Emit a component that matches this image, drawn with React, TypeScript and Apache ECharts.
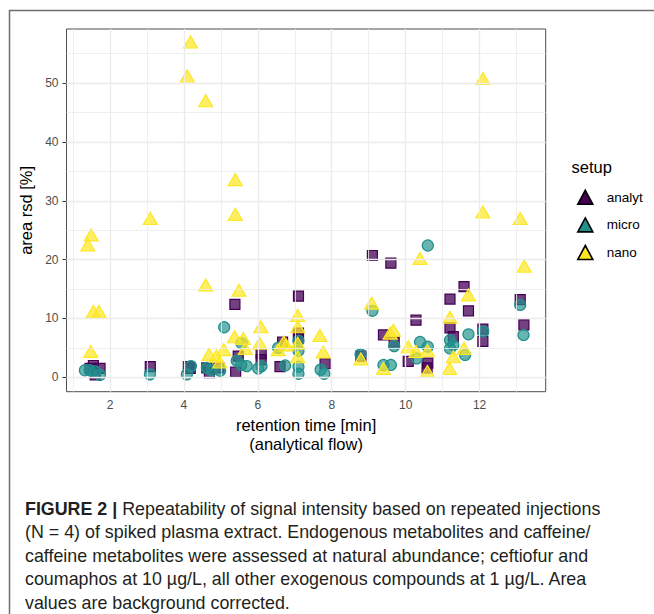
import React, { useEffect, useRef } from "react";
import * as echarts from "echarts";

// ---- data (retention time [min], area rsd [%]) ----
const analytRt = [1.46, 1.55, 1.6, 1.73, 3.09, 4.12, 4.17, 4.62, 4.69, 4.95, 5.38, 5.4, 5.47, 6.09, 6.09, 6.6, 6.67, 7.1, 7.1, 7.1, 7.82, 8.79, 9.1, 9.6, 9.4, 9.69, 10.07, 10.28, 10.6, 10.58, 11.2, 11.2, 11.29, 11.58, 11.7, 12.09, 12.09, 13.1, 13.2];
const analytRsd = [1.5, 2.0, 0.4, 1.5, 1.8, 1.8, 1.5, 1.6, 0.8, 1.6, 12.4, 0.9, 3.6, 4.0, 3.0, 1.8, 6.0, 13.8, 7.5, 6.6, 2.3, 3.6, 20.7, 19.4, 7.2, 6.0, 2.7, 9.7, 2.4, 1.6, 13.3, 8.4, 6.9, 15.4, 11.3, 8.2, 6.1, 13.2, 8.9];

const microRt = [1.32, 1.45, 1.6, 1.73, 3.08, 4.08, 4.19, 4.62, 4.75, 4.98, 5.09, 5.43, 5.55, 5.7, 5.56, 6.01, 6.1, 6.55, 6.74, 7.1, 7.1, 7.1, 7.1, 7.7, 7.8, 8.78, 9.1, 9.4, 9.6, 9.69, 10.3, 10.39, 10.6, 10.6, 11.2, 11.29, 11.2, 11.61, 11.7, 12.1, 13.1, 13.19];
const microRsd = [1.2, 1.2, 1.0, 0.4, 0.5, 0.5, 1.9, 1.6, 1.2, 1.1, 8.5, 2.8, 2.1, 1.9, 5.8, 1.5, 1.9, 5.0, 2.0, 6.2, 4.5, 1.8, 0.6, 1.3, 0.6, 3.9, 11.3, 2.1, 2.1, 5.3, 3.2, 6.0, 5.2, 22.4, 6.3, 5.5, 4.9, 3.8, 7.3, 7.8, 12.3, 7.2];

const nanoRt = [1.4, 1.49, 1.55, 1.7, 1.48, 3.09, 4.09, 4.18, 4.59, 4.59, 4.68, 4.88, 5.08, 4.97, 5.39, 5.39, 5.49, 5.37, 5.61, 5.66, 6.08, 6.05, 6.55, 6.7, 6.77, 7.08, 7.08, 7.08, 7.08, 7.68, 7.77, 8.79, 9.08, 9.4, 9.58, 9.67, 10.07, 10.28, 10.39, 10.59, 10.59, 11.19, 11.2, 11.29, 11.58, 11.7, 12.09, 12.09, 13.1, 13.21];
const nanoRsd = [22.5, 24.2, 11.2, 11.2, 4.4, 27.0, 51.2, 57.0, 47.0, 15.7, 3.9, 3.6, 4.7, 2.6, 33.6, 27.7, 14.8, 6.9, 6.6, 4.9, 8.6, 5.8, 4.7, 6.0, 5.5, 10.5, 8.6, 5.8, 3.5, 7.1, 4.3, 3.1, 12.6, 1.5, 7.5, 8.0, 5.2, 4.4, 20.2, 4.5, 1.0, 1.5, 10.2, 3.5, 4.9, 14.0, 50.8, 28.1, 27.0, 18.9];

const setupNames = ["analyt", "micro", "nano"];
const xMajorTicks = [2, 4, 6, 8, 10, 12];
const xMinorTicks = [1, 3, 5, 7, 9, 11, 13];
const yMajorTicks = [0, 10, 20, 30, 40, 50];
const yMinorTicks = [5, 15, 25, 35, 45, 55];

const captionLines = [
  "(N = 4) of spiked plasma extract. Endogenous metabolites and caffeine/",
  "caffeine metabolites were assessed at natural abundance; ceftiofur and",
  "coumaphos at 10 \u00b5g/L, all other exogenous compounds at 1 \u00b5g/L. Area",
  "values are background corrected.",
];
const captionBold = "FIGURE 2 |";
const captionFirst = " Repeatability of signal intensity based on repeated injections";

const FONT = "'Liberation Sans', Arial, Helvetica, sans-serif";
const CAP_FONT = "'Liberation Sans', Arial, Helvetica, sans-serif";

const zip = (xs: number[], ys: number[]) => xs.map((x, i) => [x, ys[i]]);

export default function App() {
  const ref = useRef<HTMLDivElement>(null);

  useEffect(() => {
    const el = ref.current;
    if (!el) return;
    const chart = echarts.init(el, null, { renderer: "svg" });

    const full = ["#440154", "#21908C", "#FDE725"];
    const fill = ["rgba(68,1,84,0.75)", "rgba(33,144,140,0.68)", "rgba(253,231,37,0.72)"];
    const symbols = ["rect", "circle", "triangle"];
    const sizes: any[] = [10, 11, [14, 12]];
    const datas = [zip(analytRt, analytRsd), zip(microRt, microRsd), zip(nanoRt, nanoRsd)];

    const gridColor = "#EBEBEB";
    const gridLines = [
      ...xMajorTicks.map((v) => ({ xAxis: v, lineStyle: { color: gridColor, width: 1.3, type: "solid" } })),
      ...xMinorTicks.map((v) => ({ xAxis: v, lineStyle: { color: gridColor, width: 0.8, type: "solid" } })),
      ...yMajorTicks.map((v) => ({ yAxis: v, lineStyle: { color: gridColor, width: 1.3, type: "solid" } })),
      ...yMinorTicks.map((v) => ({ yAxis: v, lineStyle: { color: gridColor, width: 0.8, type: "solid" } })),
    ];

    const captionY0 = 508;
    const captionStep = 23.5;
    const capSize = 18.6;
    const capScale = 0.96;

    const option: any = {
      animation: false,
      backgroundColor: "#ffffff",
      grid: {
        left: 66.5,
        top: 29,
        right: 108.3,
        bottom: 222.3,
        show: true,
        borderColor: "#4d4d4d",
        borderWidth: 1,
        backgroundColor: "transparent",
      },
      xAxis: {
        type: "value",
        min: 0.823,
        max: 13.79,
        axisLine: { show: false },
        splitLine: { show: false },
        axisTick: { show: true, length: 4, customValues: xMajorTicks, lineStyle: { color: "#333333", width: 1 } },
        axisLabel: { customValues: xMajorTicks, color: "#4D4D4D", fontSize: 12, fontFamily: FONT, margin: 7 },
        name: "retention time [min]\n(analytical flow)",
        nameLocation: "middle",
        nameGap: 20,
        nameTextStyle: { color: "#000", fontSize: 16.5, fontFamily: FONT, lineHeight: 18.7, align: "center" },
      },
      yAxis: {
        type: "value",
        min: -2.45,
        max: 59.2,
        axisLine: { show: false },
        splitLine: { show: false },
        axisTick: { show: true, length: 4, customValues: yMajorTicks, lineStyle: { color: "#333333", width: 1 } },
        axisLabel: { customValues: yMajorTicks, color: "#4D4D4D", fontSize: 12, fontFamily: FONT, margin: 8 },
        name: "area rsd [%]",
        nameLocation: "middle",
        nameGap: 24,
        nameTextStyle: { color: "#000", fontSize: 16.5, fontFamily: FONT },
      },
      legend: {
        orient: "vertical",
        left: 577,
        top: 189.5,
        padding: 0,
        itemWidth: 15,
        itemHeight: 14,
        itemGap: 12,
        textStyle: { color: "#000", fontSize: 13.5, fontFamily: FONT, padding: [0, 0, 0, 9] },
        data: setupNames.map((name, i) => ({
          name,
          icon: "triangle",
          itemStyle: { color: full[i], borderColor: "#000", borderWidth: 1.6, opacity: 1 },
        })),
      },
      series: [
        {
          name: "grid",
          type: "scatter",
          data: [],
          z: 1,
          silent: true,
          markLine: {
            silent: true,
            symbol: ["none", "none"],
            label: { show: false },
            emphasis: { disabled: true },
            data: gridLines,
          },
        },
        ...setupNames.map((name, i) => ({
          name,
          type: "scatter",
          z: 2 + i,
          symbol: symbols[i],
          symbolSize: sizes[i],
          data: datas[i],
          itemStyle: { color: fill[i], borderColor: full[i], borderWidth: 1.2, opacity: 1 },
          emphasis: { disabled: true },
        })),
      ],
      graphic: [
        {
          type: "polyline",
          silent: true,
          shape: { points: [[9.5, 614], [9.5, 10.5], [654, 10.5]] },
          style: { stroke: "#6e6e6e", lineWidth: 1.5, fill: null },
        },
        {
          type: "text",
          silent: true,
          style: { text: "setup", x: 571.5, y: 166.7, verticalAlign: "middle", fontSize: 16.5, fontFamily: FONT, fill: "#000" },
        },
        {
          type: "text",
          silent: true,
          x: 25,
          y: captionY0,
          scaleX: capScale,
          style: {
            text: "{b|" + captionBold + "}" + captionFirst,
            x: 0,
            y: 0,
            verticalAlign: "middle",
            fontSize: capSize,
            fontFamily: CAP_FONT,
            fill: "#231F20",
            rich: { b: { fontWeight: "bold", fontSize: capSize, fontFamily: CAP_FONT, fill: "#231F20" } },
          },
        },
        ...captionLines.map((t, i) => ({
          type: "text",
          silent: true,
          x: 25,
          y: captionY0 + captionStep * (i + 1),
          scaleX: capScale,
          style: {
            text: t,
            x: 0,
            y: 0,
            verticalAlign: "middle",
            fontSize: capSize,
            fontFamily: CAP_FONT,
            fill: "#231F20",
          },
        })),
      ],
    };

    chart.setOption(option);
    return () => chart.dispose();
  }, []);

  return (
    <div
      ref={ref}
      style={{ position: "absolute", left: 0, top: 0, width: 654, height: 614, background: "#fff" }}
    />
  );
}
